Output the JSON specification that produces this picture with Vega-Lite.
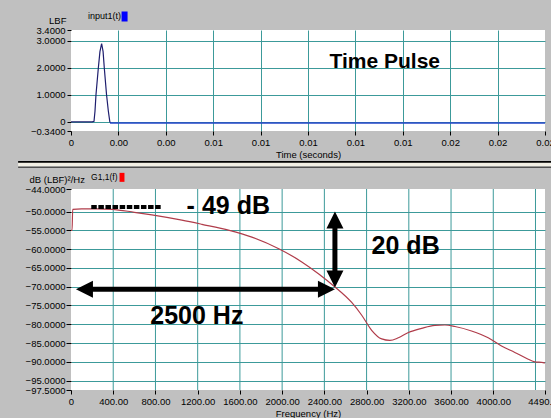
{
  "$schema": "https://vega.github.io/schema/vega-lite/v6.json",
  "background": "#c0c0c0",
  "padding": {"left": 16, "top": 11, "right": 0, "bottom": 0},
  "spacing": 1,
  "config": {
    "view": {"fill": "#ffffff", "stroke": null},
    "axis": {
      "labelFont": "Liberation Sans, Arial, sans-serif",
      "titleFont": "Liberation Sans, Arial, sans-serif",
      "labelFontSize": 9.5,
      "titleFontSize": 9.5,
      "titleFontWeight": "normal",
      "labelColor": "#000000",
      "titleColor": "#000000",
      "domain": false,
      "tickColor": "#000000",
      "tickSize": 4,
      "labelPadding": 1,
      "gridColor": "#3c9a9a",
      "gridWidth": 1,
      "labelOverlap": false,
      "labelFlush": false,
      "labelBound": false
    }
  },
  "datasets": {
    "pulse": [
      {"t": 0, "v": 0, "seg": "p"},
      {"t": 0.0009, "v": 0, "seg": "p"},
      {"t": 0.000971, "v": 0.02, "seg": "p"},
      {"t": 0.001013, "v": 0.4, "seg": "p"},
      {"t": 0.001054, "v": 1.0, "seg": "p"},
      {"t": 0.001154, "v": 2.0, "seg": "p"},
      {"t": 0.001221, "v": 2.6, "seg": "p"},
      {"t": 0.001292, "v": 2.9, "seg": "p"},
      {"t": 0.001354, "v": 2.6, "seg": "p"},
      {"t": 0.001404, "v": 2.0, "seg": "p"},
      {"t": 0.0015, "v": 1.0, "seg": "p"},
      {"t": 0.001575, "v": 0.4, "seg": "p"},
      {"t": 0.001638, "v": 0.0, "seg": "p"},
      {"t": 0.00168, "v": -0.04, "seg": "p"},
      {"t": 0.00165, "v": -0.04, "seg": "tail"},
      {"t": 0.02, "v": -0.04, "seg": "tail"}
    ],
    "topnotes": [
      {"t": 0.01324, "v": 2.21, "label": "Time Pulse"}
    ],
    "toplegend": [
      {"t": 0.000714, "v": 3.92, "label": "input1(t)"}
    ],
    "topmarker": [
      {"t": 0.00226, "v": 3.9}
    ],
    "spec": [
      {"f": 0, "db": -55}, {"f": 10, "db": -55}, {"f": 16, "db": -49.4},
      {"f": 100, "db": -49.3}, {"f": 250, "db": -49.3}, {"f": 388, "db": -49.4},
      {"f": 600, "db": -50.2}, {"f": 766, "db": -50.9}, {"f": 1050, "db": -52.3},
      {"f": 1240, "db": -53.4}, {"f": 1500, "db": -55.0}, {"f": 1713, "db": -56.8},
      {"f": 1968, "db": -59.9}, {"f": 2186, "db": -63.4}, {"f": 2347, "db": -66.6},
      {"f": 2489, "db": -69.8}, {"f": 2659, "db": -74.2}, {"f": 2754, "db": -77.6},
      {"f": 2848, "db": -81.6}, {"f": 2943, "db": -83.9}, {"f": 3021, "db": -84.3},
      {"f": 3101, "db": -83.6}, {"f": 3196, "db": -82.2}, {"f": 3321, "db": -81.1},
      {"f": 3447, "db": -80.3}, {"f": 3542, "db": -80.2}, {"f": 3637, "db": -80.6},
      {"f": 3794, "db": -81.8}, {"f": 3952, "db": -83.6}, {"f": 4078, "db": -85.8},
      {"f": 4204, "db": -87.5}, {"f": 4331, "db": -89.3}, {"f": 4393, "db": -90.0},
      {"f": 4473, "db": -90.2}, {"f": 4490, "db": -90.3}
    ],
    "vgrid": [
      {"f": 400}, {"f": 800}, {"f": 1200}, {"f": 1600}, {"f": 2000}, {"f": 2400},
      {"f": 2800}, {"f": 3200}, {"f": 3600}, {"f": 4000}, {"f": 4400}
    ],
    "sep": [
      {"f1": -501, "f2": 4700, "db": -36.8, "part": "top"},
      {"f1": -501, "f2": 4700, "db": -37.5, "part": "mid"},
      {"f1": -501, "f2": 4700, "db": -38.2, "part": "bot"}
    ],
    "dash": [{"f1": 192, "f2": 861, "db": -48.8}],
    "vshaft": [{"f": 2500, "db1": -53.9, "db2": -65.9}],
    "hshaft": [{"f1": 190, "f2": 2355, "db": -70.7}],
    "heads": [
      {"f": 2500, "db": -50, "dir": "up"},
      {"f": 2500, "db": -70.2, "dir": "down"},
      {"f": 47, "db": -70.7, "dir": "left"},
      {"f": 2500, "db": -70.7, "dir": "right"}
    ],
    "notes": [
      {"f": 1490, "db": -48.6, "label": "- 49 dB"},
      {"f": 3170, "db": -59.25, "label": "20 dB"},
      {"f": 1192, "db": -77.8, "label": "2500 Hz"}
    ],
    "botlegend": [{"f": 190, "db": -40.9, "label": "G1,1(f)"}],
    "botmarker": [{"f": 483, "db": -40.9}]
  },
  "vconcat": [
    {
      "width": 474,
      "height": 101,
      "layer": [
        {
          "data": {"name": "pulse"},
          "transform": [{"filter": "datum.seg === 'p'"}],
          "mark": {"type": "line", "color": "#1e1e6e", "strokeWidth": 1.2},
          "encoding": {
            "x": {
              "field": "t", "type": "quantitative",
              "scale": {"domain": [0, 0.02], "nice": false, "zero": false},
              "axis": {
                "values": [0, 0.002, 0.004, 0.006, 0.008, 0.01, 0.012, 0.014, 0.016, 0.018, 0.02],
                "tickCount": 30,
                "labelExpr": "datum.value === 0 ? '0' : format(datum.value, '.2f')",
                "labelPadding": 2,
                "title": "Time (seconds)",
                "titlePadding": 3,
                "gridOpacity": {"condition": {"test": "datum.value <= 0 || datum.value >= 0.0199", "value": 0}, "value": 1}
              }
            },
            "y": {
              "field": "v", "type": "quantitative",
              "scale": {"domain": [-0.34, 3.4], "nice": false, "zero": false},
              "axis": {
                "values": [3.4, 3, 2, 1, 0, -0.34],
                "tickCount": 30,
                "labelExpr": "datum.value === 0 ? '0' : format(datum.value, '.4f')",
                "title": "LBF",
                "titleAngle": 0,
                "titleAlign": "right",
                "titleBaseline": "middle",
                "titleX": -5,
                "titleY": -10,
                "labelPadding": 2,
                "gridOpacity": {"condition": {"test": "datum.value > 3.3 || datum.value < -0.3", "value": 0}, "value": 1}
              }
            }
          }
        },
        {
          "data": {"name": "pulse"},
          "transform": [{"filter": "datum.seg === 'tail'"}],
          "mark": {"type": "line", "color": "#2444c8", "strokeWidth": 1.5},
          "encoding": {
            "x": {"field": "t", "type": "quantitative"},
            "y": {"field": "v", "type": "quantitative"}
          }
        },
        {
          "data": {"name": "topnotes"},
          "mark": {"type": "text", "font": "Liberation Sans, Arial, sans-serif", "fontWeight": "bold", "fontSize": 21, "color": "#000000", "align": "center", "baseline": "middle"},
          "encoding": {
            "x": {"field": "t", "type": "quantitative"},
            "y": {"field": "v", "type": "quantitative"},
            "text": {"field": "label"}
          }
        },
        {
          "data": {"name": "toplegend"},
          "mark": {"type": "text", "font": "Liberation Sans, Arial, sans-serif", "fontSize": 9, "color": "#000000", "align": "left", "baseline": "middle"},
          "encoding": {
            "x": {"field": "t", "type": "quantitative"},
            "y": {"field": "v", "type": "quantitative"},
            "text": {"field": "label"}
          }
        },
        {
          "data": {"name": "topmarker"},
          "mark": {"type": "point", "filled": true, "color": "#0000ff", "opacity": 1, "size": 100, "shape": "M-0.6,-1H0.6V1H-0.6Z", "strokeWidth": 0},
          "encoding": {
            "x": {"field": "t", "type": "quantitative"},
            "y": {"field": "v", "type": "quantitative"}
          }
        }
      ]
    },
    {
      "width": 474,
      "height": 201,
      "layer": [
        {
          "data": {"name": "vgrid"},
          "mark": {"type": "rule", "color": "#3c9a9a", "strokeWidth": 1},
          "encoding": {
            "x": {
              "field": "f", "type": "quantitative",
              "scale": {"domain": [0, 4490], "nice": false, "zero": false},
              "axis": {
                "values": [0, 400, 800, 1200, 1600, 2000, 2400, 2800, 3200, 3600, 4000, 4490],
                "tickCount": 30,
                "labelExpr": "datum.value === 0 ? '0' : format(datum.value, '.2f')",
                "labelPadding": 2,
                "title": "Frequency (Hz)",
                "titlePadding": 3,
                "grid": false
              }
            }
          }
        },
        {
          "data": {"name": "spec"},
          "mark": {"type": "line", "color": "#b03c4a", "strokeWidth": 1.2, "interpolate": "monotone"},
          "encoding": {
            "x": {"field": "f", "type": "quantitative"},
            "y": {
              "field": "db", "type": "quantitative",
              "scale": {"domain": [-97.5, -44], "nice": false, "zero": false},
              "axis": {
                "values": [-44, -50, -55, -60, -65, -70, -75, -80, -85, -90, -95, -97.5],
                "tickCount": 30,
                "labelExpr": "format(datum.value, '.4f')",
                "title": "dB (LBF)²/Hz",
                "titleAngle": 0,
                "titleAlign": "left",
                "titleBaseline": "middle",
                "titleX": -42,
                "titleY": -10,
                "tickSize": 5,
                "labelPadding": 1,
                "gridOpacity": {"condition": {"test": "datum.value > -45 || datum.value < -96", "value": 0}, "value": 1}
              }
            }
          }
        },
        {
          "data": {"name": "sep"},
          "transform": [{"filter": "datum.part === 'top'"}],
          "mark": {"type": "rule", "color": "#000000", "strokeWidth": 2},
          "encoding": {
            "x": {"field": "f1", "type": "quantitative"},
            "x2": {"field": "f2"},
            "y": {"field": "db", "type": "quantitative"}
          }
        },
        {
          "data": {"name": "sep"},
          "transform": [{"filter": "datum.part === 'mid'"}],
          "mark": {"type": "rule", "color": "#f2efe4", "strokeWidth": 3.5},
          "encoding": {
            "x": {"field": "f1", "type": "quantitative"},
            "x2": {"field": "f2"},
            "y": {"field": "db", "type": "quantitative"}
          }
        },
        {
          "data": {"name": "sep"},
          "transform": [{"filter": "datum.part === 'bot'"}],
          "mark": {"type": "rule", "color": "#202020", "strokeWidth": 1},
          "encoding": {
            "x": {"field": "f1", "type": "quantitative"},
            "x2": {"field": "f2"},
            "y": {"field": "db", "type": "quantitative"}
          }
        },
        {
          "data": {"name": "dash"},
          "mark": {"type": "rule", "color": "#000000", "strokeWidth": 4, "strokeDash": [5.5, 1.6]},
          "encoding": {
            "x": {"field": "f1", "type": "quantitative"},
            "x2": {"field": "f2"},
            "y": {"field": "db", "type": "quantitative"}
          }
        },
        {
          "data": {"name": "vshaft"},
          "mark": {"type": "rule", "color": "#000000", "strokeWidth": 5},
          "encoding": {
            "x": {"field": "f", "type": "quantitative"},
            "y": {"field": "db1", "type": "quantitative"},
            "y2": {"field": "db2"}
          }
        },
        {
          "data": {"name": "hshaft"},
          "mark": {"type": "rule", "color": "#000000", "strokeWidth": 5},
          "encoding": {
            "x": {"field": "f1", "type": "quantitative"},
            "x2": {"field": "f2"},
            "y": {"field": "db", "type": "quantitative"}
          }
        },
        {
          "data": {"name": "heads"},
          "mark": {"type": "point", "filled": true, "color": "#000000", "opacity": 1, "size": 289, "strokeWidth": 0},
          "encoding": {
            "x": {"field": "f", "type": "quantitative"},
            "y": {"field": "db", "type": "quantitative"},
            "shape": {
              "field": "dir", "type": "nominal", "legend": null,
              "scale": {
                "domain": ["up", "down", "left", "right"],
                "range": ["M0,0L-1,2L1,2Z", "M0,0L-1,-2L1,-2Z", "M0,0L2,-1L2,1Z", "M0,0L-2,-1L-2,1Z"]
              }
            }
          }
        },
        {
          "data": {"name": "notes"},
          "mark": {"type": "text", "font": "Liberation Sans, Arial, sans-serif", "fontWeight": "bold", "fontSize": 25, "color": "#000000", "align": "center", "baseline": "middle"},
          "encoding": {
            "x": {"field": "f", "type": "quantitative"},
            "y": {"field": "db", "type": "quantitative"},
            "text": {"field": "label"}
          }
        },
        {
          "data": {"name": "botlegend"},
          "mark": {"type": "text", "font": "Liberation Sans, Arial, sans-serif", "fontSize": 8.5, "color": "#000000", "align": "left", "baseline": "middle"},
          "encoding": {
            "x": {"field": "f", "type": "quantitative"},
            "y": {"field": "db", "type": "quantitative"},
            "text": {"field": "label"}
          }
        },
        {
          "data": {"name": "botmarker"},
          "mark": {"type": "point", "filled": true, "color": "#ff0000", "opacity": 1, "size": 81, "shape": "M-0.55,-1H0.55V1H-0.55Z", "strokeWidth": 0},
          "encoding": {
            "x": {"field": "f", "type": "quantitative"},
            "y": {"field": "db", "type": "quantitative"}
          }
        }
      ]
    }
  ]
}
